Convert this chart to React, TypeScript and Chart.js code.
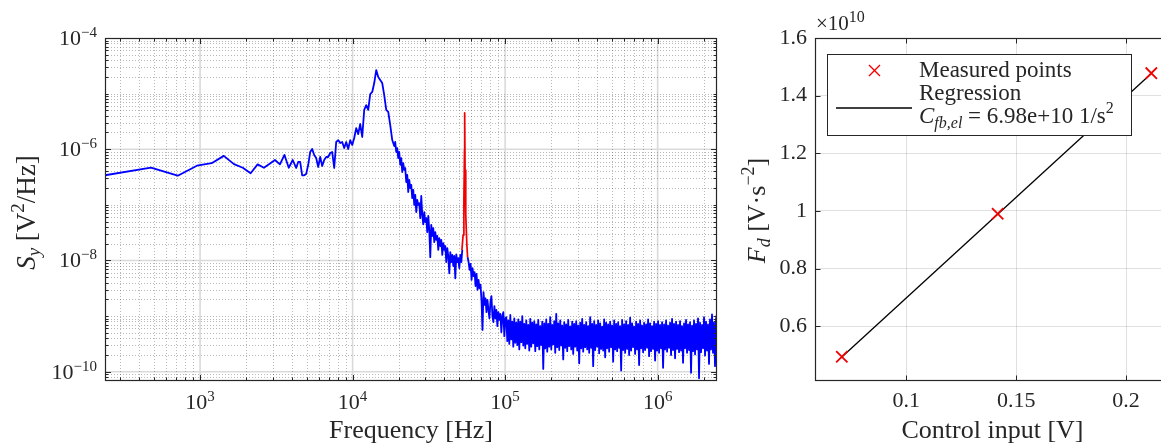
import React, { useEffect, useRef } from "react";
import { Chart, registerables } from "chart.js";

Chart.register(...registerables);

const FONT = '"Liberation Serif", "Times New Roman", serif';
const INK = "#262626";
const BLUE = "#0000ff";
const RED = "#f00000";

// ---------------- Left panel: power spectral density ----------------
const psdFreqMin = 238;
const psdFreqMax = 2.45e6;
const psdValueMin = 6.8e-11;
const psdValueMax = 1e-4;
const psdFreqTicks = [1e3, 1e4, 1e5, 1e6];
const psdValueTicks = [1e-10, 1e-8, 1e-6, 1e-4];

// low-frequency bins (Hz) and their PSD (V^2/Hz)
const lowFreqHz = [238, 476, 714, 953, 1191, 1430, 1668, 1906, 2145, 2383, 2622, 2860, 3098, 3337, 3575, 3813, 4052];
const lowFreqPsd = [3.4e-7, 4.65e-7, 3.34e-7, 5.05e-7, 5.6e-7, 7.6e-7, 5.4e-7, 4.65e-7, 3.7e-7, 5.35e-7, 4.65e-7, 5.5e-7, 6.4e-7, 5.35e-7, 7.9e-7, 4.65e-7, 6.4e-7];

// rising flank up to the main resonance (log-spaced samples, V^2/Hz)
const riseStartHz = 4266;
const riseEndHz = 18750;
const risePsd = [
  4.6e-7, 5.9e-7, 5.9e-7, 3.4e-7, 3.4e-7, 3.6e-7, 5.2e-7, 8.9e-7, 1.01e-6, 7.9e-7,
  6.95e-7, 4.8e-7, 7.25e-7, 5.0e-7, 6.4e-7, 7.25e-7, 7.25e-7, 8.55e-7, 8.9e-7, 4.6e-7,
  1.35e-6, 1.46e-6, 1.29e-6, 1.35e-6, 1.05e-6, 1.35e-6, 1.01e-6, 1.46e-6, 1.19e-6, 1.59e-6,
  2.4e-6, 1.87e-6, 2.84e-6, 1.66e-6, 5.1e-6, 6.2e-6, 5.1e-6, 9.8e-6, 1.07e-5, 1.55e-5,
  2.65e-5, 1.99e-5, 1.76e-5, 1.55e-5, 9.4e-6, 5.1e-6, 4.7e-6, 2.72e-6, 1.46e-6, 1.14e-6,
];

// falling flank (log10 of V^2/Hz)
const fallStartHz = 19030;
const fallEndHz = 52390;
const fallLogPsd = [
  -5.87, -6.05, -5.98, -6.16, -6.05, -6.28, -6.16, -6.41, -6.25, -6.37,
  -6.34, -6.59, -6.46, -6.77, -6.55, -6.7, -6.64, -6.88, -6.73, -7.0,
  -6.82, -7.13, -6.91, -7.0, -6.97, -7.24, -6.84, -7.18, -7.35, -7.13,
  -7.31, -7.24, -7.49, -7.2, -7.45, -7.94, -7.36, -7.56, -7.42, -7.67,
  -7.49, -7.63, -7.56, -7.81, -7.6, -7.74, -7.63, -7.9, -7.69, -7.81,
  -7.74, -8.03, -7.78, -7.92, -8.23, -7.85, -8.03, -7.9, -8.1, -7.92,
  -8.32, -7.89, -8.03, -7.96, -8.14, -7.9, -8.03, -7.81,
];

// highlighted calibration tone (red)
const toneFreqHz = [52100, 53020, 53660, 54150, 54300, 54620, 55200, 56120, 56750];
const tonePsd = [1.54e-8, 2.86e-8, 1.22e-7, 9.7e-7, 4.5e-6, 4.2e-7, 6.6e-8, 1.9e-8, 1.15e-8];

// decay after the tone (log10 of V^2/Hz)
const decayStartHz = 56750;
const decayEndHz = 100300;
const decayLogPsd = [
  -7.94, -8.03, -8.17, -8.06, -8.35, -8.14, -8.28, -8.21, -8.46, -8.24,
  -8.53, -8.35, -8.5, -8.44, -8.71, -9.25, -8.57, -8.8, -8.68, -8.93,
  -8.71, -8.89, -9.04, -8.75, -8.64, -9.0, -9.11, -8.82, -9.04, -8.89,
  -9.18, -8.93, -9.07, -8.96, -9.29, -9.0, -8.93, -9.36, -9.04,
];

// noise floor (log10 of V^2/Hz)
const floorStartHz = 101800;
const floorEndHz = 2.45e6;
const floorLogPsd = [
  -9.02, -9.45, -9.08, -9.5, -8.98, -9.42, -9.1, -9.55, -9.04, -9.48,
  -9.12, -9.52, -9.06, -9.6, -9.1, -9.47, -9.0, -9.53, -9.14, -9.58,
  -9.08, -9.5, -9.16, -9.62, -9.05, -9.55, -9.12, -9.49, -9.09, -9.63,
  -9.15, -9.54, -9.07, -9.6, -9.18, -9.52, -9.1, -9.95, -9.13, -9.58,
  -9.06, -9.64, -9.14, -9.55, -9.02, -9.6, -9.16, -9.51, -9.09, -9.66,
  -8.96, -9.56, -9.13, -9.61, -9.08, -9.53, -9.17, -9.78, -9.11, -9.57,
  -9.15, -9.63, -9.07, -9.54, -9.19, -9.6, -9.1, -9.68, -9.14, -9.55,
  -9.09, -9.62, -9.17, -9.85, -9.12, -9.58, -9.05, -9.64, -9.16, -9.56,
  -9.11, -9.6, -9.18, -9.66, -9.02, -9.57, -9.14, -9.9, -9.09, -9.61,
  -9.16, -9.55, -9.08, -9.67, -9.13, -9.59, -9.19, -9.62, -9.06, -9.74,
  -9.12, -9.58, -9.15, -9.64, -9.1, -9.56, -9.17, -9.82, -9.08, -9.6,
  -9.14, -9.63, -9.11, -9.57, -9.18, -9.98, -9.07, -9.61, -9.15, -9.66,
  -9.09, -9.59, -9.16, -9.7, -9.03, -9.62, -9.13, -9.56, -9.19, -9.68,
  -9.1, -9.6, -9.14, -9.88, -9.08, -9.58, -9.17, -9.65, -9.12, -9.61,
  -9.15, -9.57, -9.06, -9.72, -9.13, -9.63, -9.18, -9.59, -9.1, -9.8,
  -9.14, -9.62, -9.09, -9.66, -9.16, -9.58, -9.11, -9.93, -9.15, -9.6,
  -9.08, -9.64, -9.17, -9.57, -9.12, -9.7, -9.05, -9.61, -9.14, -9.76,
  -9.1, -9.59, -9.16, -9.65, -9.09, -9.62, -9.18, -9.84, -9.13, -9.58,
  -9.07, -9.66, -9.15, -9.61, -9.11, -10.02, -9.17, -9.63, -9.08, -9.69,
  -9.14, -9.6, -9.04, -10.12, -9.12, -9.65, -9.16, -9.58, -9.02, -9.71,
  -9.1, -9.62, -9.15, -9.86, -9.06, -9.6, -8.97, -9.66, -9.12, -9.9,
  -9.05, -8.96,
];

// ---------------- Right panel: calibration ----------------
const inputMin = 0.0585;
const inputMax = 0.22;
const forceMin = 0.41e10;
const forceMax = 1.6e10;
const inputTicks = [0.1, 0.15, 0.2];
const forceTicks = [0.6e10, 0.8e10, 1.0e10, 1.2e10, 1.4e10, 1.6e10];

const controlInputV = [0.0707, 0.1416, 0.2115];
const measuredForce = [0.494e10, 0.99e10, 1.478e10];
const regressionInputV = [0.0707, 0.2115];
const regressionForce = [0.4935e10, 1.4765e10];
const regressionSlopeText = "6.98e+10";

// ---------------- helpers ----------------
const logSamples = (a: number, b: number, n: number) =>
  Array.from({ length: n }, (_, i) => a * Math.pow(b / a, i / (n - 1)));

const pairs = (xs: number[], ys: number[]) => xs.map((x, i) => ({ x, y: ys[i] }));
const fromLog = (v: number) => Math.pow(10, v);

type Part = { t: string; s: number; i?: boolean; dy?: number };
function drawRich(
  ctx: CanvasRenderingContext2D,
  parts: Part[],
  x: number,
  y: number,
  align: "left" | "center" | "right"
) {
  const fontOf = (p: Part) => `${p.i ? "italic " : ""}${p.s}px ${FONT}`;
  let w = 0;
  for (const p of parts) {
    ctx.font = fontOf(p);
    w += ctx.measureText(p.t).width;
  }
  let cx = align === "center" ? x - w / 2 : align === "right" ? x - w : x;
  ctx.textAlign = "left";
  ctx.textBaseline = "alphabetic";
  for (const p of parts) {
    ctx.font = fontOf(p);
    ctx.fillText(p.t, cx, y + (p.dy || 0));
    cx += ctx.measureText(p.t).width;
  }
}

const powParts = (v: number): Part[] => {
  const e = Math.round(Math.log10(v));
  return [
    { t: "10", s: 22 },
    { t: (e < 0 ? "−" : "") + String(Math.abs(e)), s: 15, dy: -8 },
  ];
};

function logMinors(min: number, max: number, majors: number[]) {
  const out: number[] = [];
  for (let e = Math.floor(Math.log10(min)); e <= Math.ceil(Math.log10(max)); e++) {
    for (let k = 1; k < 10; k++) {
      const v = k * Math.pow(10, e);
      if (v > min && v < max && !majors.some((m) => Math.abs(m - v) / m < 1e-6)) out.push(v);
    }
  }
  return out;
}

const snap = (p: number) => Math.round(p) + 0.5;

const psdFramePlugin = {
  id: "psdFrame",
  beforeDatasetsDraw(chart: any) {
    const { ctx, chartArea: a } = chart;
    const xs = chart.scales.x;
    const ys = chart.scales.y;
    const minorX = logMinors(psdFreqMin, psdFreqMax, psdFreqTicks);
    const minorY = logMinors(psdValueMin, psdValueMax, psdValueTicks);
    ctx.save();
    ctx.beginPath();
    ctx.rect(a.left, a.top, a.right - a.left, a.bottom - a.top);
    ctx.clip();
    ctx.lineWidth = 1;
    ctx.strokeStyle = "rgba(38,38,38,0.33)";
    ctx.setLineDash([1, 2]);
    ctx.beginPath();
    for (const v of minorX) {
      const p = snap(xs.getPixelForValue(v));
      ctx.moveTo(p, a.top);
      ctx.lineTo(p, a.bottom);
    }
    for (const v of minorY) {
      const p = snap(ys.getPixelForValue(v));
      ctx.moveTo(a.left, p);
      ctx.lineTo(a.right, p);
    }
    ctx.stroke();
    ctx.setLineDash([]);
    ctx.strokeStyle = "rgba(38,38,38,0.17)";
    ctx.lineWidth = 1.6;
    ctx.beginPath();
    for (const v of psdFreqTicks) {
      const p = xs.getPixelForValue(v);
      ctx.moveTo(p, a.top);
      ctx.lineTo(p, a.bottom);
    }
    for (const v of psdValueTicks) {
      const p = ys.getPixelForValue(v);
      ctx.moveTo(a.left, p);
      ctx.lineTo(a.right, p);
    }
    ctx.stroke();
    ctx.restore();
  },
  afterDatasetsDraw(chart: any) {
    const { ctx, chartArea: a } = chart;
    const xs = chart.scales.x;
    const ys = chart.scales.y;
    const minorX = logMinors(psdFreqMin, psdFreqMax, psdFreqTicks);
    const minorY = logMinors(psdValueMin, psdValueMax, psdValueTicks);
    ctx.save();
    ctx.strokeStyle = INK;
    ctx.lineWidth = 1;
    ctx.beginPath();
    const tickX = (v: number, len: number) => {
      const p = snap(xs.getPixelForValue(v));
      ctx.moveTo(p, a.bottom);
      ctx.lineTo(p, a.bottom - len);
      ctx.moveTo(p, a.top);
      ctx.lineTo(p, a.top + len);
    };
    const tickY = (v: number, len: number) => {
      const p = snap(ys.getPixelForValue(v));
      ctx.moveTo(a.left, p);
      ctx.lineTo(a.left + len, p);
      ctx.moveTo(a.right, p);
      ctx.lineTo(a.right - len, p);
    };
    psdFreqTicks.forEach((v) => tickX(v, 6));
    minorX.forEach((v) => tickX(v, 3.5));
    psdValueTicks.forEach((v) => tickY(v, 6));
    minorY.forEach((v) => tickY(v, 3.5));
    ctx.stroke();
    ctx.lineWidth = 1.2;
    ctx.strokeRect(a.left + 0.5, a.top + 0.5, a.right - a.left - 1, a.bottom - a.top - 1);

    // tick labels (powers of ten) at the scales' tick positions
    ctx.fillStyle = INK;
    for (const t of xs.ticks) {
      drawRich(ctx, powParts(t.value), xs.getPixelForValue(t.value), a.bottom + 28, "center");
    }
    for (const t of ys.ticks) {
      drawRich(ctx, powParts(t.value), a.left - 8, ys.getPixelForValue(t.value) + 7, "right");
    }

    // y-axis title
    ctx.translate(35, (a.top + a.bottom) / 2 + 3);
    ctx.rotate(-Math.PI / 2);
    drawRich(
      ctx,
      [
        { t: "S", s: 27, i: true },
        { t: "y", s: 19, i: true, dy: 5 },
        { t: " [V", s: 27 },
        { t: "2", s: 19, dy: -11 },
        { t: "/Hz]", s: 27 },
      ],
      0,
      0,
      "center"
    );
    ctx.restore();
  },
};

const calFramePlugin = {
  id: "calFrame",
  afterDatasetsDraw(chart: any) {
    const { ctx, chartArea: a } = chart;
    const xs = chart.scales.x;
    const ys = chart.scales.y;
    ctx.save();
    ctx.strokeStyle = INK;
    ctx.lineWidth = 1;
    ctx.beginPath();
    for (const v of inputTicks) {
      const p = snap(xs.getPixelForValue(v));
      ctx.moveTo(p, a.bottom);
      ctx.lineTo(p, a.bottom - 5.5);
      ctx.moveTo(p, a.top);
      ctx.lineTo(p, a.top + 5.5);
    }
    for (const v of forceTicks) {
      const p = snap(ys.getPixelForValue(v));
      ctx.moveTo(a.left, p);
      ctx.lineTo(a.left + 5.5, p);
      ctx.moveTo(a.right, p);
      ctx.lineTo(a.right - 5.5, p);
    }
    ctx.stroke();
    ctx.lineWidth = 1.2;
    ctx.strokeRect(a.left + 0.5, a.top + 0.5, a.right - a.left - 1, a.bottom - a.top - 1);

    // exponent note
    ctx.fillStyle = INK;
    drawRich(
      ctx,
      [
        { t: "×10", s: 21 },
        { t: "10", s: 16, dy: -8 },
      ],
      a.left + 1,
      a.top - 8,
      "left"
    );

    // legend
    const bx = a.left + 12;
    const by = a.top + 16;
    const bw = 304;
    const bh = 81;
    ctx.fillStyle = "#ffffff";
    ctx.fillRect(bx, by, bw, bh);
    ctx.strokeStyle = INK;
    ctx.lineWidth = 1;
    ctx.strokeRect(bx + 0.5, by + 0.5, bw, bh);
    const mx = bx + 47.5;
    const my = by + 16.5;
    ctx.strokeStyle = RED;
    ctx.lineWidth = 1.4;
    ctx.beginPath();
    ctx.moveTo(mx - 5.5, my - 5.5);
    ctx.lineTo(mx + 5.5, my + 5.5);
    ctx.moveTo(mx - 5.5, my + 5.5);
    ctx.lineTo(mx + 5.5, my - 5.5);
    ctx.stroke();
    ctx.strokeStyle = "#000000";
    ctx.lineWidth = 1.3;
    ctx.beginPath();
    ctx.moveTo(bx + 9, by + 54);
    ctx.lineTo(bx + 85, by + 54);
    ctx.stroke();
    ctx.fillStyle = INK;
    drawRich(ctx, [{ t: "Measured points", s: 23 }], bx + 92, by + 22.5, "left");
    drawRich(ctx, [{ t: "Regression", s: 23 }], bx + 92, by + 45.5, "left");
    drawRich(
      ctx,
      [
        { t: "C", s: 23, i: true },
        { t: "fb,el", s: 16, i: true, dy: 5 },
        { t: ` = ${regressionSlopeText} 1/s`, s: 23 },
        { t: "2", s: 16, dy: -10 },
      ],
      bx + 92,
      by + 69,
      "left"
    );

    // y-axis title
    ctx.translate(35, (a.top + a.bottom) / 2 + 1);
    ctx.rotate(-Math.PI / 2);
    drawRich(
      ctx,
      [
        { t: "F", s: 26, i: true },
        { t: "d", s: 18, i: true, dy: 5 },
        { t: " [V·s", s: 26 },
        { t: "−2", s: 18, dy: -11 },
        { t: "]", s: 26 },
      ],
      0,
      0,
      "center"
    );
    ctx.restore();
  },
};

const tickFont = { family: FONT, size: 22 };
const titleFont = { family: FONT, size: 26, lineHeight: 1 };

export default function App() {
  const leftRef = useRef<HTMLCanvasElement>(null);
  const rightRef = useRef<HTMLCanvasElement>(null);

  useEffect(() => {
    const psdPoints = [
      ...pairs(lowFreqHz, lowFreqPsd),
      ...pairs(logSamples(riseStartHz, riseEndHz, risePsd.length), risePsd),
      ...pairs(logSamples(fallStartHz, fallEndHz, fallLogPsd.length), fallLogPsd.map(fromLog)),
      { x: toneFreqHz[4], y: null as any },
      ...pairs(logSamples(decayStartHz, decayEndHz, decayLogPsd.length), decayLogPsd.map(fromLog)),
      ...pairs(logSamples(floorStartHz, floorEndHz, floorLogPsd.length), floorLogPsd.map(fromLog)),
    ];
    const tonePoints = pairs(toneFreqHz, tonePsd);

    const left = new Chart(leftRef.current as HTMLCanvasElement, {
      type: "line",
      data: {
        datasets: [
          {
            label: "tone",
            data: tonePoints,
            borderColor: RED,
            borderWidth: 1.7,
            pointRadius: 0,
            tension: 0,
            borderJoinStyle: "round",
          },
          {
            label: "psd",
            data: psdPoints,
            borderColor: BLUE,
            borderWidth: 1.8,
            pointRadius: 0,
            tension: 0,
            spanGaps: false,
            borderJoinStyle: "round",
          },
        ],
      },
      options: {
        responsive: false,
        animation: false,
        events: [],
        layout: { padding: { left: 0, right: 13, top: 38, bottom: 0 } },
        plugins: { legend: { display: false }, tooltip: { enabled: false } },
        scales: {
          x: {
            type: "logarithmic",
            min: psdFreqMin,
            max: psdFreqMax,
            afterFit: (s: any) => {
              s.height = 64;
            },
            afterBuildTicks: (s: any) => {
              s.ticks = psdFreqTicks.map((value) => ({ value }));
            },
            grid: { display: false, drawTicks: false },
            border: { display: false },
            ticks: { display: false, autoSkip: false, maxRotation: 0 },
            title: {
              display: true,
              text: "Frequency [Hz]",
              color: INK,
              font: titleFont,
              padding: { top: 0, bottom: 1 },
            },
          },
          y: {
            type: "logarithmic",
            min: psdValueMin,
            max: psdValueMax,
            afterFit: (s: any) => {
              s.width = 105;
            },
            afterBuildTicks: (s: any) => {
              s.ticks = psdValueTicks.map((value) => ({ value }));
            },
            grid: { display: false, drawTicks: false },
            border: { display: false },
            ticks: { display: false, autoSkip: false },
          },
        },
      } as any,
      plugins: [psdFramePlugin],
    });

    const right = new Chart(rightRef.current as HTMLCanvasElement, {
      type: "line",
      data: {
        datasets: [
          {
            label: "Measured points",
            data: pairs(controlInputV, measuredForce),
            showLine: false,
            pointStyle: "crossRot",
            pointRadius: 8,
            pointBorderWidth: 1.8,
            borderColor: RED,
            pointBorderColor: RED,
            backgroundColor: RED,
          },
          {
            label: "Regression",
            data: pairs(regressionInputV, regressionForce),
            borderColor: "#000000",
            borderWidth: 1.3,
            pointRadius: 0,
            tension: 0,
          },
        ],
      },
      options: {
        responsive: false,
        animation: false,
        events: [],
        layout: { padding: { left: 0, right: 20, top: 38, bottom: 0 } },
        plugins: { legend: { display: false }, tooltip: { enabled: false } },
        scales: {
          x: {
            type: "linear",
            min: inputMin,
            max: inputMax,
            afterFit: (s: any) => {
              s.height = 64;
            },
            afterBuildTicks: (s: any) => {
              s.ticks = inputTicks.map((value) => ({ value }));
            },
            grid: { display: true, drawTicks: false, color: "rgba(38,38,38,0.14)", lineWidth: 1 },
            border: { display: false },
            ticks: {
              autoSkip: false,
              maxRotation: 0,
              padding: 7,
              color: INK,
              font: tickFont,
              callback: (v: any) => String(parseFloat(Number(v).toFixed(3))),
            },
            title: {
              display: true,
              text: "Control input [V]",
              color: INK,
              font: titleFont,
              padding: { top: 0, bottom: 1 },
            },
          },
          y: {
            type: "linear",
            min: forceMin,
            max: forceMax,
            afterFit: (s: any) => {
              s.width = 85;
            },
            afterBuildTicks: (s: any) => {
              s.ticks = forceTicks.map((value) => ({ value }));
            },
            grid: { display: true, drawTicks: false, color: "rgba(38,38,38,0.14)", lineWidth: 1 },
            border: { display: false },
            ticks: {
              autoSkip: false,
              padding: 8,
              color: INK,
              font: tickFont,
              callback: (v: any) => String(parseFloat((Number(v) / 1e10).toFixed(2))),
            },
          },
        },
      } as any,
      plugins: [calFramePlugin],
    });

    return () => {
      left.destroy();
      right.destroy();
    };
  }, []);

  return (
    <div
      style={{
        position: "fixed",
        left: 0,
        top: 0,
        width: 1161,
        height: 445,
        overflow: "hidden",
        background: "#ffffff",
      }}
    >
      <canvas
        ref={leftRef}
        width={730}
        height={445}
        style={{ position: "absolute", left: 0, top: 0, width: 730, height: 445 }}
      />
      <canvas
        ref={rightRef}
        width={460}
        height={445}
        style={{ position: "absolute", left: 730, top: 0, width: 460, height: 445 }}
      />
    </div>
  );
}
